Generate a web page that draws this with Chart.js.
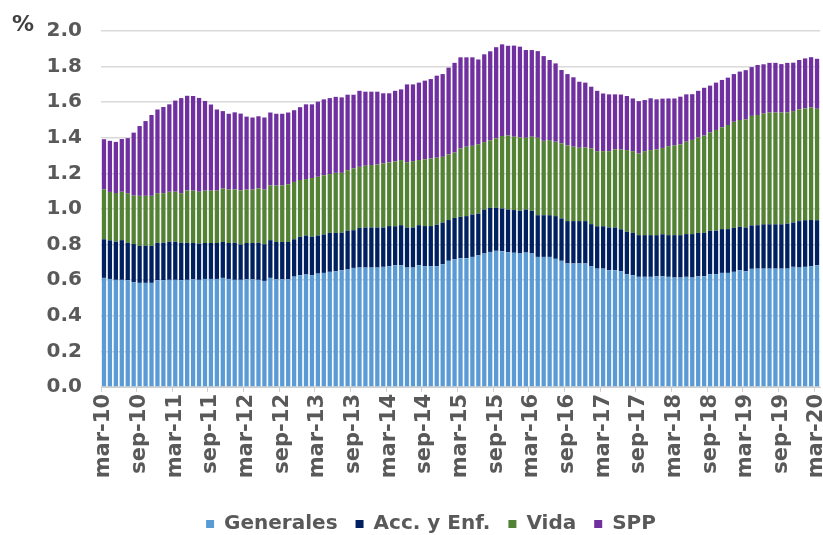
<!DOCTYPE html>
<html>
<head>
<meta charset="utf-8">
<script src="https://cdn.jsdelivr.net/npm/chart.js@4.4.1/dist/chart.umd.min.js"></script>
<style>
  html, body { margin: 0; padding: 0; background: #fff; }
  #wrap { position: relative; width: 823px; height: 535px; }
  #pct { position: absolute; left: 12px; top: 11px; font: bold 22px "DejaVu Sans"; color: #404040; }
</style>
</head>
<body>
<div id="wrap">
  <canvas id="chart" width="823" height="535"></canvas>
  <div id="pct">%</div>
</div>
<script>
// Meses (mar-10 a mar-20), etiquetas cada 6 meses
const monthNames = ['ene', 'feb', 'mar', 'abr', 'may', 'jun', 'jul', 'ago', 'sep', 'oct', 'nov', 'dic'];
const labels = [];
for (let y = 10; y <= 20; y++) {
  monthNames.forEach((m, i) => {
    if ((y === 10 && i < 2) || (y === 20 && i > 2)) return;
    labels.push(m + '-' + y);
  });
}

const seriesNames = ['Generales', 'Acc. y Enf.', 'Vida', 'SPP'];
const seriesColors = ['#5b9bd5', '#002060', '#548235', '#7030a0'];

const generales = [
  0.613, 0.607, 0.602, 0.602, 0.600, 0.589, 0.585, 0.585, 0.585, 0.600,
  0.600, 0.602, 0.602, 0.600, 0.602, 0.605, 0.602, 0.607, 0.607, 0.607,
  0.613, 0.607, 0.602, 0.602, 0.605, 0.605, 0.602, 0.596, 0.613, 0.605,
  0.605, 0.605, 0.620, 0.628, 0.632, 0.628, 0.637, 0.641, 0.647, 0.650,
  0.656, 0.660, 0.669, 0.671, 0.671, 0.671, 0.671, 0.675, 0.679, 0.684,
  0.684, 0.671, 0.671, 0.684, 0.679, 0.679, 0.679, 0.690, 0.709, 0.718,
  0.724, 0.724, 0.731, 0.740, 0.750, 0.759, 0.765, 0.763, 0.757, 0.754,
  0.750, 0.755, 0.750, 0.731, 0.731, 0.731, 0.720, 0.709, 0.694, 0.694,
  0.694, 0.694, 0.679, 0.665, 0.665, 0.656, 0.656, 0.650, 0.634, 0.628,
  0.619, 0.619, 0.619, 0.622, 0.622, 0.619, 0.615, 0.615, 0.619, 0.615,
  0.622, 0.622, 0.634, 0.634, 0.641, 0.641, 0.647, 0.656, 0.650, 0.664,
  0.665, 0.665, 0.665, 0.665, 0.665, 0.665, 0.675, 0.671, 0.675, 0.679,
  0.684
];

const accEnf = [
  0.217, 0.217, 0.214, 0.223, 0.210, 0.214, 0.208, 0.208, 0.208, 0.210,
  0.210, 0.214, 0.214, 0.210, 0.208, 0.204, 0.204, 0.202, 0.202, 0.202,
  0.202, 0.202, 0.208, 0.199, 0.204, 0.204, 0.208, 0.206, 0.212, 0.210,
  0.210, 0.210, 0.210, 0.216, 0.219, 0.216, 0.214, 0.216, 0.219, 0.216,
  0.210, 0.217, 0.212, 0.223, 0.225, 0.225, 0.225, 0.221, 0.225, 0.219,
  0.225, 0.225, 0.225, 0.225, 0.225, 0.225, 0.232, 0.234, 0.229, 0.232,
  0.232, 0.236, 0.238, 0.234, 0.247, 0.247, 0.242, 0.240, 0.240, 0.240,
  0.240, 0.242, 0.240, 0.234, 0.234, 0.234, 0.240, 0.238, 0.238, 0.238,
  0.238, 0.238, 0.236, 0.238, 0.238, 0.240, 0.240, 0.236, 0.238, 0.238,
  0.234, 0.234, 0.234, 0.231, 0.236, 0.234, 0.238, 0.238, 0.240, 0.244,
  0.244, 0.244, 0.244, 0.244, 0.246, 0.246, 0.247, 0.244, 0.246, 0.244,
  0.244, 0.249, 0.249, 0.249, 0.249, 0.253, 0.249, 0.261, 0.262, 0.259,
  0.253
];

const vida = [
  0.281, 0.272, 0.274, 0.272, 0.279, 0.272, 0.281, 0.281, 0.281, 0.279,
  0.279, 0.281, 0.281, 0.279, 0.294, 0.294, 0.291, 0.294, 0.294, 0.294,
  0.300, 0.300, 0.300, 0.304, 0.300, 0.300, 0.306, 0.307, 0.307, 0.317,
  0.317, 0.324, 0.322, 0.319, 0.317, 0.330, 0.330, 0.332, 0.330, 0.337,
  0.337, 0.341, 0.347, 0.343, 0.347, 0.351, 0.354, 0.360, 0.358, 0.364,
  0.366, 0.367, 0.373, 0.366, 0.375, 0.380, 0.377, 0.369, 0.369, 0.367,
  0.384, 0.390, 0.386, 0.390, 0.379, 0.380, 0.390, 0.407, 0.416, 0.412,
  0.412, 0.403, 0.416, 0.435, 0.418, 0.422, 0.418, 0.422, 0.425, 0.418,
  0.412, 0.414, 0.425, 0.422, 0.422, 0.429, 0.439, 0.448, 0.459, 0.459,
  0.459, 0.472, 0.478, 0.482, 0.485, 0.500, 0.504, 0.510, 0.519, 0.529,
  0.536, 0.547, 0.553, 0.566, 0.572, 0.585, 0.596, 0.600, 0.607, 0.615,
  0.619, 0.622, 0.628, 0.628, 0.628, 0.624, 0.626, 0.628, 0.628, 0.632,
  0.626
];

const spp = [
  0.281, 0.287, 0.287, 0.296, 0.309, 0.354, 0.392, 0.420, 0.454, 0.470,
  0.484, 0.491, 0.512, 0.534, 0.532, 0.532, 0.527, 0.504, 0.484, 0.456,
  0.435, 0.426, 0.433, 0.431, 0.410, 0.405, 0.405, 0.405, 0.410, 0.403,
  0.403, 0.403, 0.403, 0.409, 0.420, 0.414, 0.422, 0.427, 0.427, 0.427,
  0.424, 0.424, 0.414, 0.427, 0.416, 0.412, 0.409, 0.394, 0.388, 0.397,
  0.397, 0.437, 0.431, 0.435, 0.442, 0.446, 0.461, 0.465, 0.487, 0.504,
  0.512, 0.502, 0.497, 0.476, 0.493, 0.500, 0.512, 0.515, 0.504, 0.512,
  0.510, 0.493, 0.487, 0.487, 0.476, 0.450, 0.440, 0.412, 0.401, 0.390,
  0.371, 0.364, 0.347, 0.339, 0.324, 0.319, 0.309, 0.309, 0.304, 0.296,
  0.294, 0.287, 0.291, 0.281, 0.277, 0.268, 0.264, 0.268, 0.266, 0.257,
  0.262, 0.268, 0.262, 0.266, 0.266, 0.266, 0.268, 0.272, 0.277, 0.274,
  0.281, 0.277, 0.279, 0.279, 0.272, 0.279, 0.272, 0.277, 0.281, 0.283,
  0.281
];

const seriesData = [generales, accEnf, vida, spp];
const tickColor = '#595959';
const tickFont = { family: 'DejaVu Sans', size: 20, weight: 'bold' };

// mueve la leyenda para centrarla como en el original
const shiftLegend = {
  id: 'shiftLegend',
  afterLayout(chart) {
    const lg = chart.legend;
    lg.left += 21; lg.right += 21;
    lg.top += 9; lg.bottom += 9;
  }
};

new Chart(document.getElementById('chart'), {
  type: 'bar',
  data: {
    labels: labels,
    datasets: seriesNames.map((name, i) => ({
      label: name,
      data: seriesData[i],
      backgroundColor: seriesColors[i],
      borderWidth: 0,
      barPercentage: 0.72,
      categoryPercentage: 1.0
    }))
  },
  options: {
    responsive: false,
    animation: false,
    devicePixelRatio: 1,
    layout: { padding: { top: 31, right: 3, left: 0, bottom: 0 } },
    plugins: {
      tooltip: { enabled: false },
      legend: {
        position: 'bottom',
        labels: {
          boxWidth: 8,
          boxHeight: 8,
          padding: 18,
          color: tickColor,
          font: tickFont
        }
      }
    },
    scales: {
      x: {
        stacked: true,
        afterFit(s) {
          s.height = 100;
          s.paddingLeft = 0;
          s.paddingRight = 0;
        },
        border: { display: true, color: '#d0d0d0', width: 1 },
        grid: {
          offset: true,
          drawOnChartArea: false,
          drawTicks: true,
          tickLength: 5,
          color: ctx => (ctx.index % 6 === 0 ? '#d0d0d0' : 'rgba(0,0,0,0)')
        },
        ticks: {
          autoSkip: false,
          minRotation: 90,
          maxRotation: 90,
          padding: 2,
          color: tickColor,
          font: { family: 'DejaVu Sans', size: 21, weight: 'bold' },
          callback: (v, i) => (i % 6 === 0 ? labels[i] : '')
        }
      },
      y: {
        stacked: true,
        min: 0,
        max: 2,
        afterFit(s) { s.width = 101; },
        border: { display: false },
        grid: { color: '#d9d9d9', lineWidth: 1.5, drawTicks: false },
        ticks: {
          stepSize: 0.2,
          padding: 19,
          color: tickColor,
          font: tickFont,
          callback: v => v.toFixed(1)
        }
      }
    }
  },
  plugins: [shiftLegend]
});
</script>
</body>
</html>
